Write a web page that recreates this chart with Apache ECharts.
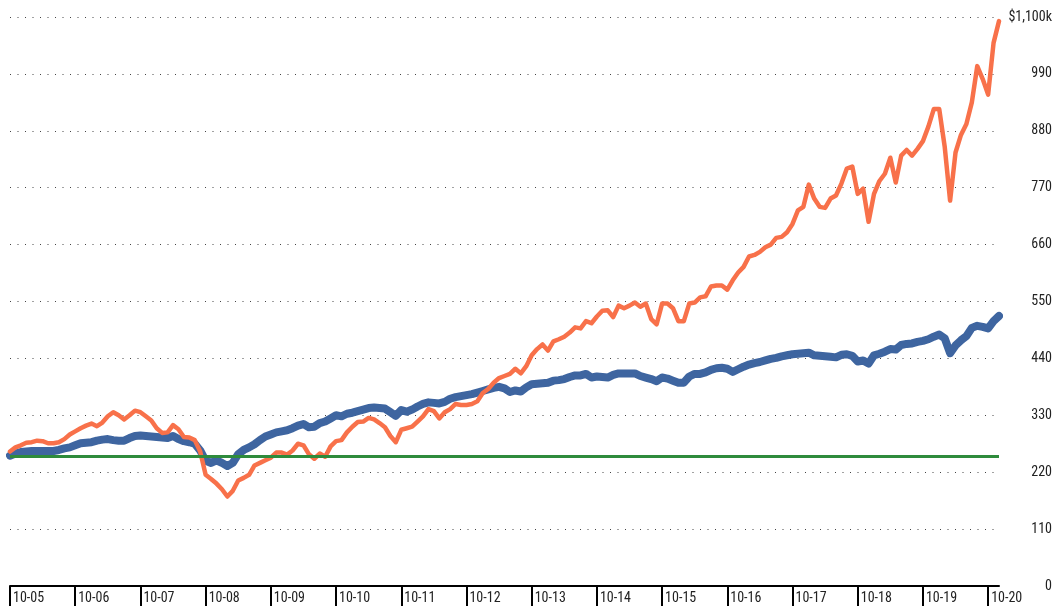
<!DOCTYPE html>
<html>
<head>
<meta charset="utf-8">
<script src="https://cdn.jsdelivr.net/npm/echarts@6/dist/echarts.min.js"></script>
<style>
html,body{margin:0;padding:0;background:#fff;}
#chart{width:1055px;height:609px;}
</style>
</head>
<body>
<div id="chart"></div>
<script>
// Monthly categories from Oct 2005 to Dec 2020, labelled "MM-YY"
const startYear = 2005, startMonth = 10, monthCount = 183;
const categories = [];
for (let k = 0; k < monthCount; k++) {
  const m = (startMonth - 1 + k) % 12 + 1;
  const y = startYear + Math.floor((startMonth - 1 + k) / 12);
  categories.push(String(m).padStart(2, '0') + '-' + String(y % 100).padStart(2, '0'));
}

// Orange series (growth portfolio), $k
const orangeValues = [
  260,268,272,277,278,281,280,276,276,278,284,293,
  299,305,310,314,309,316,328,336,330,322,330,339,
  336,328,320,305,296,297,311,303,288,287,282,260,
  215,207,198,187,173,184,204,209,215,233,238,243,
  248,258,258,254,262,275,272,255,246,256,250,270,
  280,282,297,308,317,318,325,322,315,307,290,278,
  302,305,308,318,328,342,338,324,336,342,352,350,
  350,352,357,373,381,393,402,406,410,420,411,425,
  446,458,467,455,473,477,482,490,500,498,512,508,
  521,532,533,520,542,537,542,548,540,546,516,506,
  546,546,537,512,512,546,548,558,560,579,581,581,
  573,591,606,617,637,640,646,655,660,673,675,684,
  700,726,733,776,749,733,731,749,755,778,807,811,
  758,768,704,758,783,797,828,780,832,843,832,845,
  860,888,922,922,850,745,838,872,893,935,1005,980,
  950,1050,1092
];

// Blue series (balanced portfolio), $k
const blueValues = [
  252,256,259,260,261,261,261,261,261,263,266,268,
  272,276,277,278,281,283,284,282,281,281,286,290,
  291,290,289,288,287,286,290,284,280,278,275,262,
  242,238,243,238,232,238,255,263,268,274,282,289,
  293,297,299,301,305,310,313,307,308,315,318,324,
  330,328,333,335,338,341,344,345,344,343,336,329,
  340,337,341,347,352,355,354,353,356,362,365,367,
  369,371,374,377,380,383,385,382,375,378,376,384,
  390,391,392,393,397,398,400,404,407,407,410,403,
  405,404,403,408,411,411,411,411,406,403,400,396,
  403,401,397,393,393,405,410,410,413,418,421,422,
  420,414,419,424,428,431,433,436,439,441,444,446,
  448,449,450,451,446,445,444,443,442,447,448,445,
  434,436,430,446,449,453,458,457,466,468,469,472,
  474,477,482,486,479,450,465,475,483,499,503,501,
  498,512,522
];

// Green flat reference level, $k
const baselineValue = 250;

// Y axis
const yMin = 0, yMax = 1100, yInterval = 110;
const yTopLabel = '$1,100k';

const FONT = "'Liberation Sans Narrow', 'Roboto Condensed', 'Arial Narrow', sans-serif";

const chart = echarts.init(document.getElementById('chart'), null, {renderer: 'canvas'});
const isOctober = (idx) => categories[idx] && categories[idx].startsWith('10-');

chart.setOption({
  animation: false,
  backgroundColor: '#ffffff',
  grid: {left: 10, right: 55, top: 17, bottom: 23, containLabel: false},
  xAxis: {
    type: 'category',
    data: categories,
    boundaryGap: false,
    axisLine: {show: true, lineStyle: {color: '#000', width: 2}},
    axisTick: {
      show: true,
      interval: (idx) => isOctober(idx),
      length: 20,
      inside: false,
      lineStyle: {color: '#000', width: 2}
    },
    axisLabel: {
      interval: (idx) => isOctober(idx),
      align: 'left',
      margin: 5,
      padding: [0, 0, 0, 3],
      color: '#222',
      fontFamily: FONT,
      fontSize: 14
    },
    splitLine: {show: false}
  },
  yAxis: {
    type: 'value',
    position: 'right',
    min: yMin,
    max: yMax,
    interval: yInterval,
    axisLine: {show: false},
    axisTick: {show: false},
    axisLabel: {
      align: 'right',
      margin: 53,
      color: '#222',
      fontFamily: FONT,
      fontSize: 14,
      formatter: (v) => v === yMax ? yTopLabel : String(v)
    },
    splitLine: {
      show: true,
      lineStyle: {color: '#444', width: 1, type: [1, 6.5]}
    }
  },
  series: [
    {
      name: 'Blue',
      type: 'line',
      data: blueValues,
      symbol: 'none',
      z: 2,
      lineStyle: {color: '#3E65A0', width: 8, join: 'round', cap: 'round'}
    },
    {
      name: 'Orange',
      type: 'line',
      data: orangeValues,
      symbol: 'none',
      z: 3,
      lineStyle: {color: '#F8714A', width: 4.5, join: 'round', cap: 'round'}
    },
    {
      name: 'Baseline',
      type: 'line',
      data: [],
      symbol: 'none',
      z: 4,
      markLine: {
        silent: true,
        symbol: ['none', 'none'],
        label: {show: false},
        lineStyle: {color: '#2E8B3C', width: 3, type: 'solid'},
        data: [{yAxis: baselineValue}]
      }
    }
  ]
});
</script>
</body>
</html>
